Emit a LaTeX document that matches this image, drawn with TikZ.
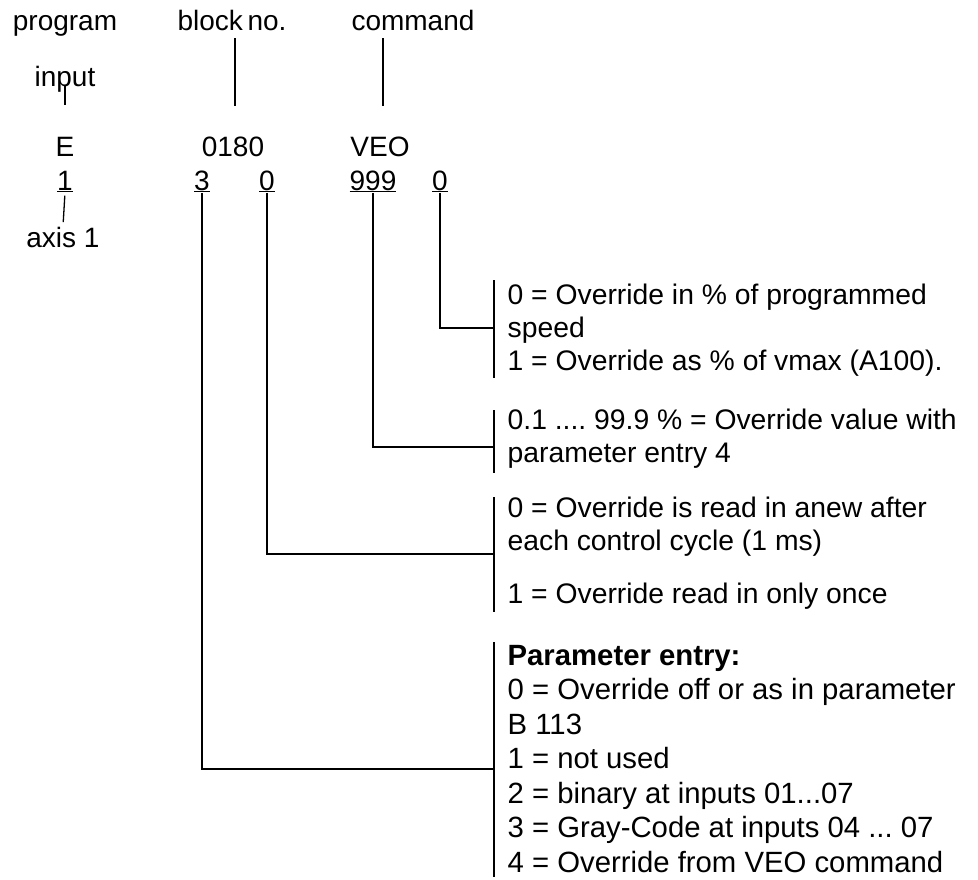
\documentclass[tikz,border=0pt]{standalone}
\usepackage{fontspec}
\setmainfont{Liberation Sans}
\usepackage{tikz}
\frenchspacing

\begin{document}
\begin{tikzpicture}[x=1pt, y=-1pt, line width=1.3pt,
    lbl/.style={anchor=base, inner sep=0pt, font=\fontsize{28}{33}\selectfont},
    desc/.style={anchor=base west, align=left, inner sep=0pt, font=\fontsize{28.3}{33}\selectfont},
    desclong/.style={desc, font=\fontsize{29.3}{34.5}\selectfont}]
    \useasboundingbox (0,0) rectangle (978,879);

    % head words
    \node[lbl] at (65, 30) (prog) {program};
    \node[lbl] at (65, 86) (inp) {input};
    \node[lbl] at (232, 30) (blk) {block\,no.};
    \node[lbl] at (413, 30) (cmd) {command};

    % the block
    \node[lbl] at (65, 156) (ltrE) {E};
    \node[lbl] at (233, 156) (blknum) {0180};
    \node[lbl] at (380, 156) (veo) {VEO};
    \node[lbl] at (65, 190) (axno) {\underline{1}};
    \node[lbl] at (202, 190) (pent) {\underline{3}};
    \node[lbl] at (267, 190) (rmode) {\underline{0}};
    \node[lbl] at (373, 190) (oval) {\underline{999}};
    \node[lbl] at (440, 190) (ovmode) {\underline{0}};
    \node[lbl] at (63, 247) (axis) {axis 1};

    % leader lines at the top
    \coordinate (inpend) at (65, 105);
    \coordinate (blktop) at (235, 38);
    \coordinate (blkend) at (235, 106);
    \coordinate (cmdtop) at (383, 38);
    \coordinate (cmdend) at (383, 106);
    \draw (inp.base) -- (inpend);
    \draw (blktop) -- (blkend);
    \draw (cmdtop) -- (cmdend);
    \draw[shorten <=3pt, shorten >=4pt] (axno.south) -- (axis.north);

    % brackets
    \coordinate (b1t) at (494, 280);
    \coordinate (b1b) at (494, 378);
    \coordinate (b2t) at (494, 410);
    \coordinate (b2b) at (494, 473);
    \coordinate (b3t) at (494, 497);
    \coordinate (b3b) at (494, 612);
    \coordinate (b4t) at (494, 642);
    \coordinate (b4b) at (494, 877);
    \draw (b1t) -- (b1b);
    \draw (b2t) -- (b2b);
    \draw (b3t) -- (b3b);
    \draw (b4t) -- (b4b);

    % joints
    \coordinate (j1) at (494, 328);
    \coordinate (j2) at (494, 447);
    \coordinate (j3) at (494, 554);
    \coordinate (j4) at (494, 769);
    \draw (ovmode.south) |- (j1);
    \draw (oval.south) |- (j2);
    \draw (rmode.south) |- (j3);
    \draw (pent.south) |- (j4);

    % explanations (placed by their last line)
    \node[desc] at (507, 370) (d1) {0 = Override in \% of programmed\\speed\\1 = Override as \% of vmax (A100).};
    \node[desc] at (507, 462) (d2) {0.1 .... 99.9 \% = Override value with\\parameter entry 4};
    \node[desc] at (507, 550) (d3a) {0 = Override is read in anew after\\each control cycle (1 ms)};
    \node[desc] at (507, 603) (d3b) {1 = Override read in only once};
    \node[desclong] at (507, 872) (d4) {\textbf{Parameter entry:}\\0 = Override off or as in parameter\\B 113\\1 = not used\\2 = binary at inputs 01...07\\3 = Gray-Code at inputs 04 ... 07\\4 = Override from VEO command};
\end{tikzpicture}
\end{document}
